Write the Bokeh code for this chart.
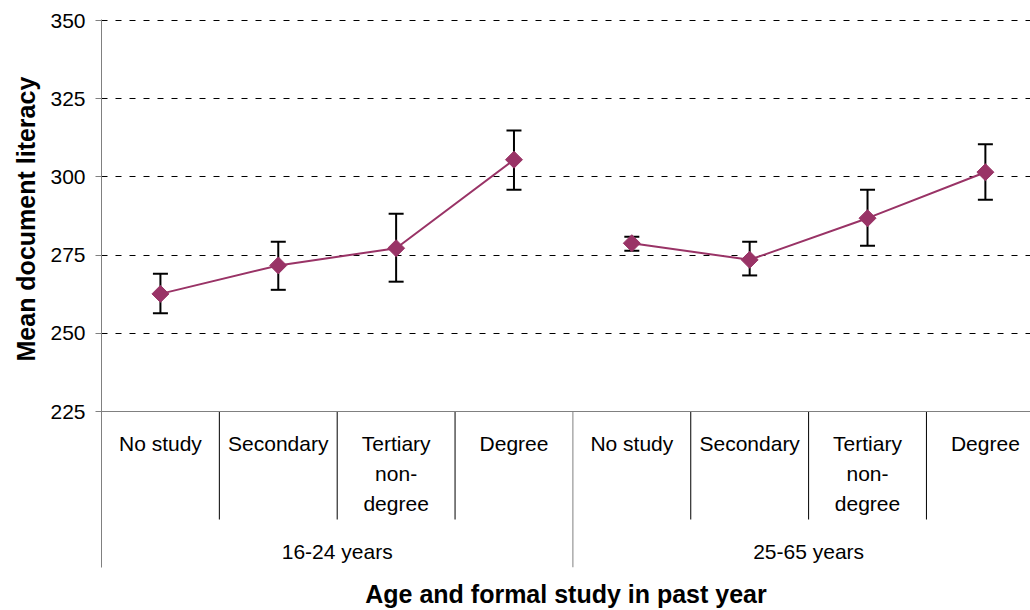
import math
from bokeh.plotting import figure
from bokeh.models import Range1d, FixedTicker, ColumnDataSource, Whisker, TeeHead, Span, Title
from bokeh.core.properties import value
from bokeh.embed import file_html
from bokeh.resources import INLINE

# ---------------- data ----------------
groups = ["16-24 years", "25-65 years"]
levels = ["No study", "Secondary", "Tertiary\nnon-\ndegree", "Degree"]

mean_16_24 = [262.6, 271.7, 277.2, 305.5]
upper_16_24 = [269.0, 279.3, 288.2, 314.8]
lower_16_24 = [256.4, 263.9, 266.5, 295.9]

mean_25_65 = [278.8, 273.5, 286.8, 301.5]
upper_25_65 = [280.9, 279.3, 295.9, 310.4]
lower_25_65 = [276.4, 268.5, 278.0, 292.7]

y_ticks = [225, 250, 275, 300, 325, 350]
y_title = "Mean document literacy"
x_title = "Age and formal study in past year"

# ---------------- layout / style ----------------
FONT = "Liberation Sans"
SERIES_COLOR = "#993366"
AXIS_COLOR = "#808080"

W, H = 1030, 610
LEFT, TOP, BOTTOM, RIGHT = 101, 19, 43, 0
frame_w = W - LEFT - RIGHT
frame_h = H - TOP - BOTTOM
cat_px = 117.85                      # pixels per category
px_per_unit = 391 / 125              # pixels per literacy point
PX = 1 / px_per_unit                 # data units per pixel
y_base = y_ticks[0]
y_top = y_ticks[-1] + 1 * PX         # 1px headroom so the top gridline shows
y_bottom = y_top - frame_h * PX
x_end = frame_w / cat_px

n = len(levels)

p = figure(width=W, height=H,
           x_range=Range1d(0, x_end), y_range=Range1d(y_bottom, y_top),
           output_backend="svg", toolbar_location=None,
           min_border_left=LEFT, min_border_top=TOP,
           min_border_bottom=BOTTOM, min_border_right=RIGHT)
p.outline_line_color = None
p.background_fill_color = "white"
p.border_fill_color = "white"

# y axis
p.yaxis.ticker = FixedTicker(ticks=y_ticks)
p.yaxis.axis_line_color = AXIS_COLOR
p.yaxis.major_tick_line_color = AXIS_COLOR
p.yaxis.major_tick_out = 6
p.yaxis.major_tick_in = 0
p.yaxis.minor_tick_line_color = None
p.yaxis.major_label_text_font = FONT
p.yaxis.major_label_text_font_size = "21px"
p.yaxis.major_label_text_color = "black"
p.yaxis.major_label_standoff = 10

# y title: starts above the frame bottom so it is centred on the value range
p.add_layout(Title(text=y_title, align="left", offset=206,
                   text_font=FONT, text_font_style="bold", text_font_size="25px",
                   text_color="black", standoff=15), "left")

# x axis: only used for its title
p.xaxis.ticker = FixedTicker(ticks=[])
p.xaxis.axis_line_color = None
p.xaxis.major_tick_line_color = None
p.xaxis.minor_tick_line_color = None
p.xaxis.major_label_text_font_size = "0px"
p.xaxis.major_label_standoff = 0
p.xaxis.axis_label = x_title
p.xaxis.axis_label_text_font = FONT
p.xaxis.axis_label_text_font_style = "bold"
p.xaxis.axis_label_text_font_size = "25px"
p.xaxis.axis_label_text_color = "black"
p.xaxis.axis_label_standoff = 12

# grid
p.xgrid.visible = False
p.ygrid.ticker = FixedTicker(ticks=y_ticks[1:])
p.ygrid.grid_line_color = "black"
p.ygrid.grid_line_dash = "6 8"
p.ygrid.grid_line_width = 1

# category axis line (at 225)
p.add_layout(Span(location=y_base, dimension="width", line_color=AXIS_COLOR, line_width=1))

# separators
inner_x = [g * n + i for g in range(len(groups)) for i in range(1, n)]
inner_bottom = y_base - 108 * PX
p.segment(x0=inner_x, y0=[y_base] * len(inner_x), x1=inner_x, y1=[inner_bottom] * len(inner_x),
          line_color="black", line_width=1)
group_x = [g * n for g in range(1, len(groups) + 1)]
p.segment(x0=group_x, y0=[y_base] * len(group_x), x1=group_x, y1=[y_bottom] * len(group_x),
          line_color=AXIS_COLOR, line_width=1)

# category labels
cat_x = [g * n + i + 0.5 for g in range(len(groups)) for i in range(n)]
p.text(x=cat_x, y=[y_base - 20 * PX] * len(cat_x), text=levels * len(groups),
       text_align="center", text_baseline="top", text_font=value(FONT),
       text_font_size="21px", text_line_height=1.32, text_color="black")

# group labels
grp_x = [g * n + n / 2 for g in range(len(groups))]
p.text(x=grp_x, y=[y_base - 128 * PX] * len(grp_x), text=groups,
       text_align="center", text_baseline="top", text_font=value(FONT),
       text_font_size="21px", text_color="black")

# series
series = [(mean_16_24, upper_16_24, lower_16_24), (mean_25_65, upper_25_65, lower_25_65)]
for g, (m, up, lo) in enumerate(series):
    xs = [g * n + i + 0.5 for i in range(n)]
    src = ColumnDataSource(dict(x=xs, mean=m, upper=up, lower=lo))
    w = Whisker(base="x", upper="upper", lower="lower", source=src, dimension="height",
                line_color="black", line_width=2,
                upper_head=TeeHead(size=15, line_color="black", line_width=2),
                lower_head=TeeHead(size=15, line_color="black", line_width=2),
                level="underlay")
    p.add_layout(w)
    p.line("x", "mean", source=src, line_color=SERIES_COLOR, line_width=2)
    p.scatter("x", "mean", source=src, marker="square", angle=math.pi / 4, size=12,
              fill_color=SERIES_COLOR, line_color=SERIES_COLOR)

open("out.html", "w").write(file_html(p, INLINE))
